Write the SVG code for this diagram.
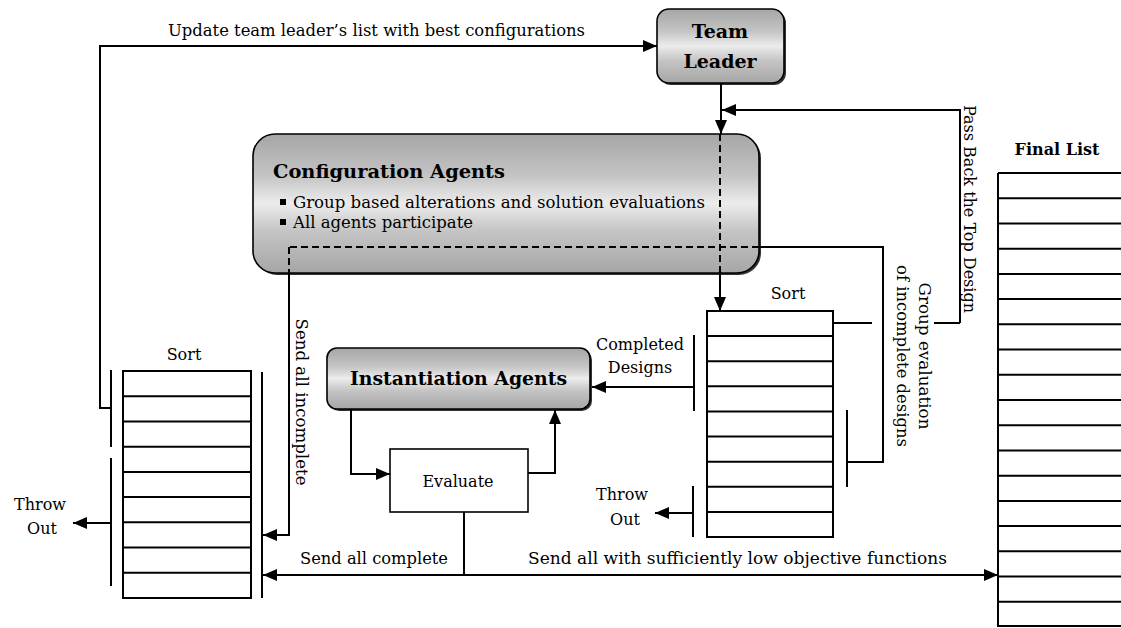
<svg xmlns="http://www.w3.org/2000/svg" width="1121" height="628" viewBox="0 0 1121 628">
<defs>
<style>
.t{font-family:"DejaVu Serif","Liberation Serif",serif;font-size:16px;fill:#000}
.b{font-family:"DejaVu Serif","Liberation Serif",serif;font-weight:bold;fill:#000}
.ln{fill:none;stroke:#000;stroke-width:2}
.ds{fill:none;stroke:#000;stroke-width:2;stroke-dasharray:7,4}
.box{stroke:#000;stroke-width:1.6}
.sh{fill:#333}
</style>
<linearGradient id="g" x1="0" y1="0" x2="0" y2="1">
<stop offset="0" stop-color="#a6a6a6"/>
<stop offset="0.3" stop-color="#c4c4c4"/>
<stop offset="0.5" stop-color="#ececec"/>
<stop offset="0.7" stop-color="#c4c4c4"/>
<stop offset="1" stop-color="#a6a6a6"/>
</linearGradient>
<marker id="ah" viewBox="0 0 14 12" refX="14" refY="6" markerWidth="14" markerHeight="12" orient="auto" markerUnits="userSpaceOnUse">
<path d="M0,0 L14,6 L0,12 z" fill="#000"/>
</marker>
</defs>
<rect width="1121" height="628" fill="#fff"/>

<g id="team-leader">
<rect class="sh" x="659" y="11" width="127" height="74" rx="12"/>
<rect class="box" x="657" y="9" width="127" height="74" rx="12" fill="url(#g)"/>
<text class="b" x="720" y="38" font-size="19" text-anchor="middle">Team</text>
<text class="b" x="720" y="68" font-size="19" text-anchor="middle">Leader</text>
</g>

<g id="configuration-agents">
<rect class="sh" x="255" y="136" width="506" height="139" rx="22"/>
<rect class="box" x="253" y="134" width="506" height="139" rx="22" fill="url(#g)"/>
<text class="b" x="273" y="178" font-size="18" textLength="232" lengthAdjust="spacingAndGlyphs">Configuration Agents</text>
<rect x="280" y="199" width="6" height="6" fill="#000"/>
<text class="t" x="293" y="208" textLength="412" lengthAdjust="spacingAndGlyphs">Group based alterations and solution evaluations</text>
<rect x="280" y="219" width="6" height="6" fill="#000"/>
<text class="t" x="293" y="228" textLength="180" lengthAdjust="spacingAndGlyphs">All agents participate</text>
</g>

<g id="instantiation-agents">
<rect class="sh" x="329" y="350" width="263" height="61" rx="10"/>
<rect class="box" x="327" y="348" width="263" height="61" rx="10" fill="url(#g)"/>
<text class="b" x="350" y="385" font-size="18" textLength="217" lengthAdjust="spacingAndGlyphs">Instantiation Agents</text>
</g>

<g id="evaluate">
<rect x="390" y="449" width="138" height="63" fill="#fff" stroke="#000" stroke-width="1.6"/>
<text class="t" x="458" y="487" text-anchor="middle">Evaluate</text>
</g>

<g id="sort-left">
<text class="t" x="184" y="360" text-anchor="middle">Sort</text>
<rect x="123" y="371" width="128" height="227" fill="#fff" stroke="#000" stroke-width="2"/>
<path class="ln" d="M123,396.2H251M123,421.4H251M123,446.7H251M123,471.9H251M123,497.1H251M123,522.3H251M123,547.6H251M123,572.8H251"/>
<path class="ln" d="M111,370V447M111,458V586M262,372V598"/>
</g>

<g id="sort-middle">
<text class="t" x="788" y="299" text-anchor="middle">Sort</text>
<rect x="707" y="311" width="126" height="226" fill="#fff" stroke="#000" stroke-width="2"/>
<path class="ln" d="M707,336.1H833M707,361.2H833M707,386.3H833M707,411.4H833M707,436.6H833M707,461.7H833M707,486.8H833M707,511.9H833"/>
<path class="ln" d="M694,335V411M693,486V537M847,410V487"/>
</g>

<g id="final-list">
<text class="b" x="1057" y="155" font-size="16" text-anchor="middle">Final List</text>
<path class="ln" d="M998,173V627M998,173H1121M998,198.2H1121M998,223.4H1121M998,248.7H1121M998,273.9H1121M998,299.1H1121M998,324.3H1121M998,349.6H1121M998,374.8H1121M998,400H1121M998,425.2H1121M998,450.4H1121M998,475.7H1121M998,500.9H1121M998,526.1H1121M998,551.3H1121M998,576.6H1121M998,601.8H1121M998,626H1121"/>
</g>

<g id="connectors">
<path class="ln" d="M111,408H100V46H657" marker-end="url(#ah)"/>
<path class="ln" d="M721,83V134" marker-end="url(#ah)"/>
<path class="ds" d="M720,134V273"/>
<path class="ln" d="M720,273V311" marker-end="url(#ah)"/>
<path class="ln" d="M960,323V110H722" marker-end="url(#ah)"/>
<path class="ln" d="M833,323H872M934,323H960"/>
<path class="ds" d="M290,247H759M289,247V273"/>
<path class="ln" d="M759,247H883V462H847"/>
<path class="ln" d="M289,273V535H263" marker-end="url(#ah)"/>
<path class="ln" d="M111,523H73" marker-end="url(#ah)"/>
<path class="ln" d="M694,387H592" marker-end="url(#ah)"/>
<path class="ln" d="M693,513H655" marker-end="url(#ah)"/>
<path class="ln" d="M351,409V474H390" marker-end="url(#ah)"/>
<path class="ln" d="M528,473H555V410" marker-end="url(#ah)"/>
<path class="ln" d="M464,512V575"/>
<path class="ln" d="M464,575H263" marker-end="url(#ah)"/>
<path class="ln" d="M464,575H998" marker-end="url(#ah)"/>
</g>

<g id="labels">
<text class="t" x="168" y="36" textLength="417" lengthAdjust="spacingAndGlyphs">Update team leader’s list with best configurations</text>
<text class="t" transform="translate(964,209) rotate(90)" text-anchor="middle" textLength="208" lengthAdjust="spacingAndGlyphs">Pass Back the Top Design</text>
<text class="t" transform="translate(919,356) rotate(90)" text-anchor="middle" textLength="147" lengthAdjust="spacingAndGlyphs">Group evaluation</text>
<text class="t" transform="translate(897,356) rotate(90)" text-anchor="middle" textLength="182" lengthAdjust="spacingAndGlyphs">of incomplete designs</text>
<text class="t" transform="translate(296,402) rotate(90)" text-anchor="middle" textLength="167" lengthAdjust="spacingAndGlyphs">Send all incomplete</text>
<text class="t" x="640" y="350" text-anchor="middle">Completed</text>
<text class="t" x="640" y="373" text-anchor="middle">Designs</text>
<text class="t" x="622" y="500" text-anchor="middle">Throw</text>
<text class="t" x="625" y="525" text-anchor="middle">Out</text>
<text class="t" x="40" y="510" text-anchor="middle">Throw</text>
<text class="t" x="42" y="534" text-anchor="middle">Out</text>
<text class="t" x="300" y="564" textLength="148" lengthAdjust="spacingAndGlyphs">Send all complete</text>
<text class="t" x="528" y="564" textLength="419" lengthAdjust="spacingAndGlyphs">Send all with sufficiently low objective functions</text>
</g>
</svg>
